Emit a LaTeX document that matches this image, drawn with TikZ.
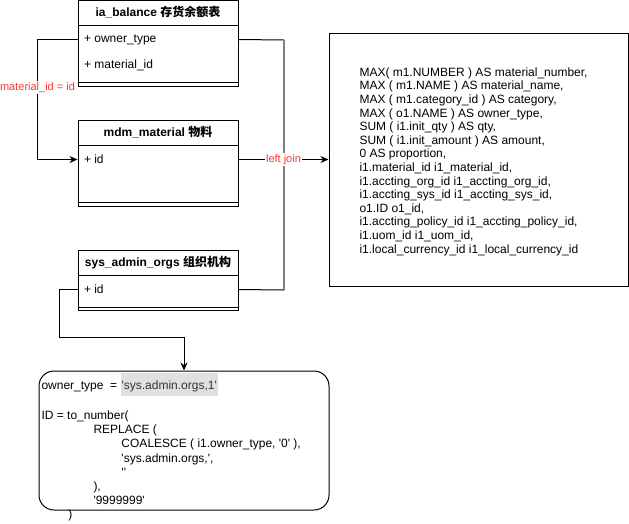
\documentclass[tikz,border=0pt]{standalone}
\usepackage{fontspec}
\setmainfont{Liberation Sans}
\newfontfamily\plain{Liberation Sans}
\newfontfamily\cjk{Noto Sans CJK SC}
\usetikzlibrary{shapes,arrows.meta,calc}
\definecolor{joinred}{RGB}{255,51,51}
\definecolor{hilite}{RGB}{224,224,224}
\definecolor{midgray}{RGB}{128,128,128}
\tikzstyle{line} = [draw, -{Stealth[length=8pt,width=7pt]}]
\tikzstyle{table} = [draw, rectangle, minimum width=160pt, inner sep=0pt]
\tikzstyle{head} = [font=\plain\bfseries\fontsize{12}{14}\selectfont, inner sep=0pt]
\tikzstyle{row} = [anchor=west, inner sep=3pt]
\tikzstyle{code} = [anchor=west, align=left, inner sep=2pt]
\tikzstyle{lbl} = [font=\plain\fontsize{11}{13}\selectfont, text=joinred, fill=white, inner sep=1pt]

\begin{document}
\begin{tikzpicture}[x=1pt, y=-1pt, line width=1pt, node distance=120pt, font=\plain\fontsize{12}{14}\selectfont]
        \useasboundingbox (0,0) rectangle (629,523);
        \node[table, minimum height=86pt] (ia) at (158,43) {};
        \node[table, minimum height=86pt, below of=ia] (mdm) {};
        \node[table, minimum height=60pt, below of=mdm, node distance=117pt] (sys) {};
        \node[head] (iahead) at ($(ia.north)+(0,13)$) {ia\_balance {\cjk 存货余额表}};
        \node[head] (mdmhead) at ($(mdm.north)+(0,13)$) {mdm\_material {\cjk 物料}};
        \node[head] (syshead) at ($(sys.north)+(0,13)$) {sys\_admin\_orgs {\cjk 组织机构}};
        \draw ($(ia.north west)+(0,26)$) -- ($(ia.north east)+(0,26)$);
        \draw ($(ia.south west)+(0,-4)$) -- ($(ia.south east)+(0,-4)$);
        \draw ($(mdm.north west)+(0,26)$) -- ($(mdm.north east)+(0,26)$);
        \draw ($(mdm.south west)+(0,-4)$) -- ($(mdm.south east)+(0,-4)$);
        \draw ($(sys.north west)+(0,26)$) -- ($(sys.north east)+(0,26)$);
        \draw ($(sys.south west)+(0,-3)$) -- ($(sys.south east)+(0,-3)$);
        \node[row] (iaowner) at ($(ia.north west)+(3,40)$) {+ owner\_type};
        \node[row] (iamat) at ($(ia.north west)+(3,66)$) {+ material\_id};
        \node[row] (mdmid) at ($(mdm.north west)+(3,40)$) {+ id};
        \node[row] (sysid) at ($(sys.north west)+(3,40)$) {+ id};
        \node[draw, rectangle, minimum width=299pt, minimum height=253pt] (sql) at (478.5,159.5) {};
        \node[code, font=\plain\fontsize{12}{13.6}\selectfont] (sqltext) at (357,161.5) {MAX( m1.NUMBER ) AS material\_number,\\
            MAX ( m1.NAME ) AS material\_name,\\
            MAX ( m1.category\_id ) AS category,\\
            MAX ( o1.NAME ) AS owner\_type,\\
            SUM ( i1.init\_qty ) AS qty,\\
            SUM ( i1.init\_amount ) AS amount,\\
            0 AS proportion,\\
            i1.material\_id i1\_material\_id,\\
            i1.accting\_org\_id i1\_accting\_org\_id,\\
            i1.accting\_sys\_id i1\_accting\_sys\_id,\\
            o1.ID o1\_id,\\
            i1.accting\_policy\_id i1\_accting\_policy\_id,\\
            i1.uom\_id i1\_uom\_id,\\
            i1.local\_currency\_id i1\_local\_currency\_id};
        \node[draw, rectangle, rounded corners=15pt, minimum width=290pt, minimum height=139pt] (cond) at (184,440.5) {};
        \node[code, font=\plain\fontsize{12}{14.2}\selectfont] (condtext) at (39,447) {owner\_type\ \ = {\fboxsep=1pt\colorbox{hilite}{\rule[-5pt]{0pt}{21pt}\textcolor{black!80}{'sys.admin.orgs,1'}}}\\[14.2pt]
            ID = to\_number(\\
            \hspace*{52pt}REPLACE (\\
            \hspace*{80pt}COALESCE ( i1.owner\_type, '0' ),\\
            \hspace*{80pt}'sys.admin.orgs,',\\
            \hspace*{80pt}''\\
            \hspace*{52pt}),\\
            \hspace*{52pt}'9999999'\\
            \hspace*{27pt})};
        \coordinate (jtop) at (284,40);
        \coordinate (jbot) at (284,290);
        \coordinate (bend) at (59,337);
        \path[line] (ia.west |- iaowner) -- ++(-40,0) -- node[lbl, pos=0.4] {material\_id = id} ++(0,120) -- (mdm.west |- mdmid);
        \draw (ia.east |- iaowner) -- (jtop);
        \draw (sys.east |- sysid) -- (jbot);
        \draw[midgray, line width=1.8pt] (jtop) -- (jbot);
        \path[line] (mdm.east |- mdmid) -- node[lbl] {left join} (sql.west |- mdmid);
        \path[line] (sys.west |- sysid) -| (bend) -| (cond.north);
    \end{tikzpicture}
\end{document}
